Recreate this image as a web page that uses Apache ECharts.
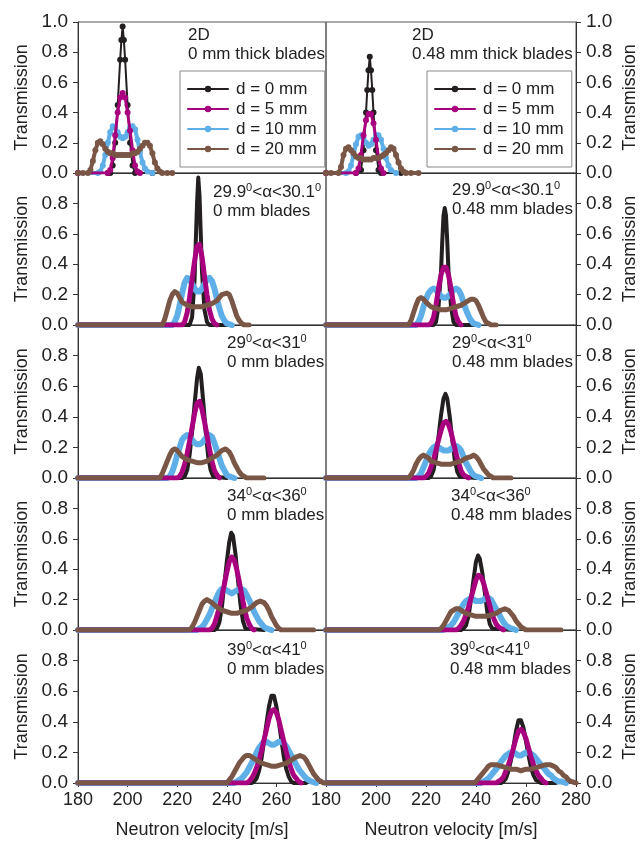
<!DOCTYPE html>
<html><head><meta charset="utf-8">
<script src="https://cdn.jsdelivr.net/npm/echarts@6/dist/echarts.min.js"></script>
<style>html,body{margin:0;padding:0;background:#fff}#c{width:644px;height:850px}</style>
</head><body><div id="c"></div>
<script>
// ---- data: [velocity (m/s), transmission] ----
const seriesNames = ['d = 0 mm', 'd = 5 mm', 'd = 10 mm', 'd = 20 mm'];
const xTicks = [180, 200, 220, 240, 260, 280];
const yTicks = [0, 0.2, 0.4, 0.6, 0.8, 1.0];
const annotTop = ['2D', '2D', '29.9{s|0}<α<30.1{s|0}', '29.9{s|0}<α<30.1{s|0}', '29{s|0}<α<31{s|0}', '29{s|0}<α<31{s|0}', '34{s|0}<α<36{s|0}', '34{s|0}<α<36{s|0}', '39{s|0}<α<41{s|0}', '39{s|0}<α<41{s|0}'];
const annotBottom = ['0 mm thick blades', '0.48 mm thick blades', '0 mm blades', '0.48 mm blades', '0 mm blades', '0.48 mm blades', '0 mm blades', '0.48 mm blades', '0 mm blades', '0.48 mm blades'];

// Row 1 (2D)
const r1L_d0 = [[180,0],[192,0],[193,0],[194,0.05],[195,0.2],[196,0.45],[197,0.75],[197.5,0.88],[198,0.97],[198.5,0.88],[199,0.75],[200,0.45],[201,0.2],[202,0.05],[203,0],[210,0]];
const r1L_d5 = [[180,0],[192,0],[193,0.02],[194,0.1],[195,0.25],[196,0.4],[197,0.5],[198,0.53],[199,0.5],[200,0.4],[201,0.28],[202,0.15],[203,0.05],[204,0.01],[205,0]];
const r1L_d10 = [[180,0],[188,0],[189,0.01],[190,0.05],[191,0.12],[192,0.2],[193,0.27],[194,0.31],[195,0.3],[196,0.27],[197,0.24],[198,0.23],[199,0.24],[200,0.27],[201,0.3],[202,0.31],[203,0.29],[204,0.22],[205,0.14],[206,0.07],[207,0.03],[208,0.01],[210,0]];
const r1L_d20 = [[180,0],[182,0],[184,0],[185,0.02],[186,0.08],[187,0.15],[188,0.2],[189,0.21],[190,0.19],[191,0.16],[192,0.14],[193,0.13],[194,0.13],[195,0.12],[196,0.12],[197,0.12],[198,0.12],[199,0.12],[200,0.12],[201,0.12],[202,0.13],[203,0.13],[204,0.14],[205,0.16],[206,0.18],[207,0.2],[208,0.2],[209,0.18],[210,0.13],[211,0.07],[212,0.03],[213,0.01],[214,0],[216,0],[218,0]];

const r1R_d0 = [[180,0],[192,0],[194,0.02],[195,0.15],[196,0.4],[196.5,0.55],[197,0.68],[197.5,0.77],[198,0.68],[198.5,0.55],[199,0.4],[200,0.15],[201,0.02],[202,0],[210,0]];
const r1R_d5 = [[180,0],[192,0],[193,0.03],[194,0.12],[195,0.25],[196,0.35],[197,0.39],[198,0.39],[199,0.33],[200,0.22],[201,0.1],[202,0.03],[203,0]];
const r1R_d10 = [[180,0],[188,0],[189,0.01],[190,0.05],[191,0.12],[192,0.19],[193,0.24],[194,0.25],[195,0.23],[196,0.2],[197,0.18],[198,0.19],[199,0.22],[200,0.25],[201,0.25],[202,0.22],[203,0.16],[204,0.1],[205,0.05],[206,0.02],[208,0]];
const r1R_d20 = [[180,0],[182,0],[185,0],[186,0.04],[187,0.12],[188,0.16],[189,0.17],[190,0.15],[191,0.13],[192,0.11],[193,0.1],[194,0.1],[195,0.09],[196,0.09],[197,0.09],[198,0.09],[199,0.1],[200,0.1],[201,0.1],[202,0.11],[203,0.12],[204,0.13],[205,0.15],[206,0.17],[207,0.16],[208,0.12],[209,0.07],[210,0.03],[211,0.01],[212,0],[214,0],[217,0]];

// Row 2 (29.9 < alpha < 30.1)
const r2L_d0 = [[180,0],[224,0],[225,0],[226,0.05],[227,0.3],[227.5,0.55],[228,0.8],[228.5,0.97],[229,0.85],[229.5,0.6],[230,0.35],[231,0.1],[232,0.02],[233,0],[240,0]];
const r2L_d5 = [[180,0],[222,0],[223,0.02],[224,0.08],[225,0.18],[226,0.3],[227,0.42],[228,0.52],[229,0.53],[230,0.45],[231,0.32],[232,0.2],[233,0.1],[234,0.04],[235,0.01],[236,0]];
const r2L_d10 = [[180,0],[218,0],[219,0.02],[220,0.06],[221,0.13],[222,0.21],[223,0.28],[224,0.31],[225,0.3],[226,0.27],[227,0.24],[228,0.22],[229,0.22],[230,0.24],[231,0.27],[232,0.3],[233,0.31],[234,0.29],[235,0.24],[236,0.17],[237,0.11],[238,0.06],[239,0.03],[240,0.01],[242,0]];
const r2L_d20 = [[180,0],[214,0],[215,0.04],[216,0.1],[217,0.16],[218,0.2],[219,0.22],[220,0.21],[221,0.18],[222,0.15],[224,0.13],[226,0.12],[228,0.12],[230,0.12],[232,0.13],[234,0.14],[236,0.16],[238,0.2],[240,0.21],[241,0.2],[242,0.16],[243,0.11],[244,0.06],[245,0.03],[246,0.01],[247,0],[249,0]];

const r2R_d0 = [[180,0],[223,0],[224,0.02],[225,0.12],[226,0.35],[226.5,0.55],[227,0.72],[227.5,0.77],[228,0.72],[228.5,0.55],[229,0.35],[230,0.12],[231,0.02],[232,0],[240,0]];
const r2R_d5 = [[180,0],[221,0],[222,0.01],[223,0.05],[224,0.13],[225,0.24],[226,0.33],[227,0.38],[228,0.38],[229,0.33],[230,0.24],[231,0.14],[232,0.06],[233,0.02],[234,0]];
const r2R_d10 = [[180,0],[216,0],[217,0.02],[218,0.06],[219,0.12],[220,0.17],[221,0.21],[222,0.23],[223,0.24],[224,0.23],[225,0.21],[226,0.19],[227,0.18],[228,0.18],[229,0.19],[230,0.21],[231,0.23],[232,0.24],[233,0.23],[234,0.2],[235,0.15],[236,0.1],[237,0.06],[238,0.03],[239,0.01],[241,0]];
const r2R_d20 = [[180,0],[213,0],[214,0.03],[215,0.08],[216,0.13],[217,0.17],[218,0.18],[219,0.17],[220,0.15],[222,0.12],[224,0.11],[226,0.1],[228,0.1],[230,0.11],[232,0.12],[234,0.13],[236,0.15],[238,0.17],[239,0.17],[240,0.16],[241,0.13],[242,0.09],[243,0.05],[244,0.02],[245,0.01],[246,0],[248,0]];

// Row 3 (29 < alpha < 31)
const r3L_d0 = [[180,0],[222,0],[223,0.01],[224,0.05],[225,0.15],[226,0.3],[227,0.48],[228,0.65],[228.7,0.72],[229.5,0.68],[230.5,0.5],[231.5,0.3],[232.5,0.14],[233.5,0.05],[234.5,0.01],[235,0],[240,0]];
const r3L_d5 = [[180,0],[220,0],[221,0.01],[222,0.04],[223,0.09],[224,0.16],[225,0.24],[226,0.33],[227,0.42],[228,0.49],[229,0.5],[230,0.45],[231,0.37],[232,0.28],[233,0.19],[234,0.11],[235,0.05],[236,0.02],[237,0]];
const r3L_d10 = [[180,0],[216,0],[217,0.01],[218,0.04],[219,0.09],[220,0.15],[221,0.2],[222,0.25],[223,0.27],[224,0.28],[225,0.27],[226,0.25],[227,0.23],[228,0.22],[229,0.22],[230,0.23],[231,0.25],[232,0.27],[233,0.28],[234,0.27],[235,0.23],[236,0.18],[237,0.13],[238,0.08],[239,0.05],[240,0.02],[241,0.01],[243,0]];
const r3L_d20 = [[180,0],[213,0],[214,0.03],[215,0.07],[216,0.11],[217,0.15],[218,0.18],[219,0.19],[220,0.18],[221,0.16],[222,0.14],[224,0.12],[226,0.11],[228,0.1],[230,0.1],[232,0.11],[234,0.13],[236,0.15],[238,0.18],[239.5,0.19],[241,0.17],[242,0.14],[243,0.1],[244,0.07],[245,0.04],[246,0.02],[247,0.01],[248,0],[255,0]];

const r3R_d0 = [[180,0],[221,0],[222,0.01],[223,0.05],[224,0.14],[225,0.27],[226,0.41],[227,0.52],[227.8,0.55],[228.5,0.52],[229.5,0.4],[230.5,0.25],[231.5,0.12],[232.5,0.04],[233.5,0.01],[234,0],[240,0]];
const r3R_d5 = [[180,0],[219,0],[220,0.01],[221,0.03],[222,0.07],[223,0.12],[224,0.18],[225,0.25],[226,0.31],[227,0.36],[228,0.37],[229,0.35],[230,0.3],[231,0.23],[232,0.16],[233,0.1],[234,0.05],[235,0.02],[236,0.01],[237,0]];
const r3R_d10 = [[180,0],[216,0],[217,0.01],[218,0.03],[219,0.07],[220,0.11],[221,0.15],[222,0.18],[223,0.2],[224,0.21],[225,0.2],[226,0.19],[227,0.18],[228,0.18],[229,0.18],[230,0.19],[231,0.2],[232,0.21],[233,0.2],[234,0.18],[235,0.14],[236,0.1],[237,0.07],[238,0.04],[239,0.02],[240,0.01],[242,0]];
const r3R_d20 = [[180,0],[213,0],[214,0.02],[215,0.05],[216,0.09],[217,0.12],[218,0.14],[219,0.15],[220,0.14],[221,0.13],[222,0.11],[224,0.1],[226,0.09],[228,0.09],[230,0.09],[232,0.1],[234,0.11],[236,0.13],[238,0.14],[239,0.15],[240,0.14],[241,0.12],[242,0.09],[243,0.06],[244,0.04],[245,0.02],[246,0.01],[247,0],[254,0]];

// Row 4 (34 < alpha < 36)
const r4L_d0 = [[180,0],[235,0],[236,0.01],[237,0.05],[238,0.15],[239,0.3],[240,0.45],[241,0.58],[241.8,0.64],[242.5,0.62],[243.5,0.5],[244.5,0.33],[245.5,0.17],[246.5,0.06],[247.5,0.01],[248,0],[255,0]];
const r4L_d5 = [[180,0],[233,0],[234,0.01],[235,0.04],[236,0.09],[237,0.15],[238,0.22],[239,0.3],[240,0.38],[241,0.45],[242,0.48],[243,0.46],[244,0.4],[245,0.32],[246,0.23],[247,0.15],[248,0.08],[249,0.04],[250,0.01],[251,0]];
const r4L_d10 = [[180,0],[228,0],[229,0.01],[230,0.02],[231,0.04],[232,0.07],[233,0.1],[234,0.14],[235,0.18],[236,0.22],[237,0.25],[238,0.27],[239,0.27],[240,0.26],[241,0.25],[242,0.24],[243,0.25],[244,0.26],[245,0.27],[246,0.27],[247,0.26],[248,0.23],[249,0.2],[250,0.16],[251,0.12],[252,0.09],[253,0.06],[254,0.04],[255,0.02],[256,0.01],[258,0]];
const r4L_d20 = [[180,0],[225,0],[226,0.02],[227,0.05],[228,0.09],[229,0.13],[230,0.17],[231,0.19],[232,0.2],[233,0.19],[234,0.18],[236,0.15],[238,0.13],[240,0.12],[242,0.11],[244,0.11],[246,0.12],[248,0.13],[250,0.15],[252,0.18],[253.5,0.19],[255,0.18],[256,0.16],[257,0.13],[258,0.09],[259,0.06],[260,0.03],[261,0.01],[262,0],[275,0]];

const r4R_d0 = [[180,0],[234,0],[235,0.01],[236,0.03],[237,0.09],[238,0.2],[239,0.33],[240,0.45],[240.8,0.49],[241.5,0.47],[242.5,0.38],[243.5,0.25],[244.5,0.12],[245.5,0.04],[246.5,0.01],[247,0],[255,0]];
const r4R_d5 = [[180,0],[232,0],[233,0.01],[234,0.03],[235,0.06],[236,0.1],[237,0.15],[238,0.21],[239,0.27],[240,0.33],[241,0.36],[242,0.35],[243,0.31],[244,0.25],[245,0.19],[246,0.13],[247,0.08],[248,0.04],[249,0.02],[250,0.01],[251,0]];
const r4R_d10 = [[180,0],[227,0],[228,0.01],[229,0.02],[230,0.03],[231,0.05],[232,0.08],[233,0.11],[234,0.14],[235,0.17],[236,0.19],[237,0.2],[238,0.21],[239,0.2],[240,0.19],[241,0.19],[242,0.19],[243,0.2],[244,0.21],[245,0.21],[246,0.2],[247,0.17],[248,0.14],[249,0.11],[250,0.08],[251,0.05],[252,0.03],[253,0.02],[254,0.01],[256,0]];
const r4R_d20 = [[180,0],[225,0],[226,0.01],[227,0.03],[228,0.06],[229,0.09],[230,0.12],[231,0.13],[232,0.14],[233,0.14],[234,0.13],[236,0.11],[238,0.1],[240,0.09],[242,0.09],[244,0.09],[246,0.1],[248,0.11],[250,0.13],[251.5,0.14],[253,0.13],[254,0.11],[255,0.09],[256,0.06],[257,0.04],[258,0.02],[259,0.01],[260,0],[274,0]];

// Row 5 (39 < alpha < 41)
const r5L_d0 = [[180,0],[250,0],[251,0.01],[252,0.03],[253,0.08],[254,0.16],[255,0.27],[256,0.39],[257,0.5],[258,0.57],[258.5,0.58],[259,0.57],[260,0.5],[261,0.4],[262,0.28],[263,0.17],[264,0.09],[265,0.04],[266,0.01],[267,0],[272,0]];
const r5L_d5 = [[180,0],[248,0],[249,0.01],[250,0.03],[251,0.06],[252,0.1],[253,0.15],[254,0.21],[255,0.28],[256,0.35],[257,0.42],[258,0.47],[259,0.48],[260,0.46],[261,0.41],[262,0.34],[263,0.27],[264,0.2],[265,0.14],[266,0.09],[267,0.05],[268,0.03],[269,0.01],[270,0]];
const r5L_d10 = [[180,0],[243,0],[244,0.01],[245,0.02],[246,0.03],[247,0.05],[248,0.07],[249,0.1],[250,0.13],[251,0.16],[252,0.2],[253,0.23],[254,0.25],[255,0.27],[256,0.27],[257,0.26],[258,0.25],[259,0.25],[260,0.26],[261,0.27],[262,0.27],[263,0.26],[264,0.24],[265,0.21],[266,0.18],[267,0.15],[268,0.12],[269,0.09],[270,0.07],[271,0.05],[272,0.03],[273,0.02],[274,0.01],[276,0]];
const r5L_d20 = [[180,0],[240,0],[241,0.02],[242,0.04],[243,0.07],[244,0.1],[245,0.13],[246,0.15],[247,0.17],[248,0.18],[249,0.18],[250,0.17],[252,0.15],[254,0.13],[256,0.12],[258,0.11],[260,0.11],[262,0.12],[264,0.13],[266,0.15],[268,0.17],[269.5,0.18],[271,0.17],[272,0.15],[273,0.12],[274,0.09],[275,0.06],[276,0.04],[277,0.02],[278,0.01],[279,0]];

const r5R_d0 = [[180,0],[250,0],[251,0.01],[252,0.03],[253,0.08],[254,0.15],[255,0.24],[256,0.34],[257,0.41],[257.5,0.42],[258,0.41],[259,0.36],[260,0.27],[261,0.18],[262,0.1],[263,0.05],[264,0.02],[265,0.01],[266,0],[272,0]];
const r5R_d5 = [[180,0],[248,0],[249,0.01],[250,0.02],[251,0.04],[252,0.08],[253,0.12],[254,0.17],[255,0.23],[256,0.29],[257,0.34],[258,0.35],[259,0.33],[260,0.29],[261,0.23],[262,0.17],[263,0.12],[264,0.08],[265,0.05],[266,0.03],[267,0.01],[268,0]];
const r5R_d10 = [[180,0],[242,0],[243,0.01],[244,0.02],[245,0.03],[246,0.05],[247,0.07],[248,0.09],[249,0.11],[250,0.14],[251,0.16],[252,0.18],[253,0.19],[254,0.2],[255,0.2],[256,0.19],[257,0.18],[258,0.18],[259,0.19],[260,0.2],[261,0.2],[262,0.19],[263,0.18],[264,0.16],[265,0.14],[266,0.12],[267,0.1],[268,0.08],[269,0.06],[270,0.05],[271,0.03],[272,0.02],[273,0.01],[274,0.01],[276,0]];
const r5R_d20 = [[180,0],[239,0],[240,0.01],[241,0.03],[242,0.05],[243,0.07],[244,0.09],[245,0.11],[246,0.12],[247,0.12],[248,0.12],[250,0.11],[252,0.1],[254,0.09],[256,0.09],[258,0.08],[260,0.09],[262,0.09],[264,0.1],[266,0.11],[268,0.12],[269.5,0.12],[271,0.11],[272,0.1],[273,0.08],[274,0.07],[275,0.05],[276,0.04],[277,0.02],[278,0.01],[280,0]];

const panels = [
  [r1L_d0, r1L_d5, r1L_d10, r1L_d20], [r1R_d0, r1R_d5, r1R_d10, r1R_d20],
  [r2L_d0, r2L_d5, r2L_d10, r2L_d20], [r2R_d0, r2R_d5, r2R_d10, r2R_d20],
  [r3L_d0, r3L_d5, r3L_d10, r3L_d20], [r3R_d0, r3R_d5, r3R_d10, r3R_d20],
  [r4L_d0, r4L_d5, r4L_d10, r4L_d20], [r4R_d0, r4R_d5, r4R_d10, r4R_d20],
  [r5L_d0, r5L_d5, r5L_d10, r5L_d20], [r5R_d0, r5R_d5, r5R_d10, r5R_d20]
];

// ---- layout & styles ----
const colors = ['#231f20', '#a8007f', '#5eaee8', '#7a5646'];
const FONT = 'Liberation Sans, Arial, sans-serif';
const TXT = '#222';
const AX = '#333';
const rowTops = [22, 173, 325, 478, 630];
const rowBottoms = [173, 325, 478, 630, 783];
const colLeft = [78, 326];
const colRight = [326, 576];
const annotPos = [[188, 35], [412, 35], [213, 192], [452, 190], [227, 343], [452, 343], [227, 496], [451, 496], [227, 650], [450, 650]];
const widthsRow1 = [2, 3, 4, 4];
const widthsOther = [4, 5, 6, 5];

const grid = [], xAxis = [], yAxis = [], series = [], graphic = [];
for (let p = 0; p < 10; p++) {
  const row = Math.floor(p / 2), col = p % 2;
  const bottomRow = row === 4;
  grid.push({ left: colLeft[col], width: colRight[col] - colLeft[col], top: rowTops[row], height: rowBottoms[row] - rowTops[row],
    show: true, borderColor: '#555', borderWidth: 1, backgroundColor: 'transparent' });
  xAxis.push({ type: 'value', gridIndex: p, min: xTicks[0], max: xTicks[xTicks.length - 1], interval: 20,
    axisLine: { show: true, onZero: false, lineStyle: { color: AX, width: 1 } },
    axisTick: { show: bottomRow, inside: false, length: 4, lineStyle: { color: AX } },
    axisLabel: { show: bottomRow, showMaxLabel: col === 1, margin: 8, fontFamily: FONT, fontSize: 18, color: TXT },
    splitLine: { show: false },
    name: bottomRow ? 'Neutron velocity [m/s]' : '', nameLocation: 'middle', nameGap: 38,
    nameTextStyle: { fontFamily: FONT, fontSize: 18, color: TXT } });
  yAxis.push({ type: 'value', gridIndex: p, min: 0, max: 1, interval: 0.2, position: col === 0 ? 'left' : 'right',
    axisLine: { show: true, onZero: false, lineStyle: { color: AX, width: 1 } },
    axisTick: { show: true, inside: false, length: 5, lineStyle: { color: AX } },
    axisLabel: { show: true, showMaxLabel: row === 0, margin: 10, fontFamily: FONT, fontSize: 19, color: TXT,
      formatter: v => v.toFixed(1) },
    splitLine: { show: false },
    name: 'Transmission', nameLocation: 'middle', nameRotate: 90, nameGap: col === 0 ? 47 : 45,
    nameTextStyle: { fontFamily: FONT, fontSize: 18, color: TXT } });
  const order = [0, 2, 1, 3];
  order.forEach(k => {
    series.push({
      type: 'line', name: seriesNames[k], xAxisIndex: p, yAxisIndex: p, data: panels[p][k],
      color: colors[k],
      symbol: row === 0 ? 'circle' : 'none', symbolSize: 6, showAllSymbol: true,
      lineStyle: { color: colors[k], width: row === 0 ? widthsRow1[k] : widthsOther[k], cap: 'round', join: 'round' },
      itemStyle: { color: colors[k] },
      animation: false, silent: true, z: 2 + order.indexOf(k)
    });
  });
  const [ax, ay] = annotPos[p];
  graphic.push({ type: 'text', x: ax, y: ay, z: 100,
    style: { text: annotTop[p], fontFamily: FONT, fontSize: 17, fill: TXT, verticalAlign: 'middle', align: 'left',
      rich: { s: { fontSize: 11, fontFamily: FONT, fill: TXT, verticalAlign: 'bottom', padding: [0, 0, 9, 0] } } } });
  graphic.push({ type: 'text', x: ax, y: ay + 19, z: 100,
    style: { text: annotBottom[p], fontFamily: FONT, fontSize: 17, fill: TXT, verticalAlign: 'middle', align: 'left' } });
}

const legendCommon = {
  data: seriesNames, orient: 'vertical', itemWidth: 40, itemHeight: 8, itemGap: 2,
  borderColor: '#888', borderWidth: 1, backgroundColor: '#fff', padding: [9, 8, 9, 7],
  textStyle: { fontFamily: FONT, fontSize: 17, color: TXT, lineHeight: 18, padding: [0, 0, 0, 3] },
  lineStyle: { width: 2 },
  selectedMode: false, z: 50
};
const option = {
  animation: false,
  backgroundColor: '#fff',
  grid, xAxis, yAxis, series, graphic,
  legend: [
    Object.assign({ left: 180, top: 71 }, legendCommon),
    Object.assign({ left: 427, top: 71 }, legendCommon)
  ]
};
const chart = echarts.init(document.getElementById('c'), null, { renderer: 'canvas' });
chart.setOption(option);
</script></body></html>
